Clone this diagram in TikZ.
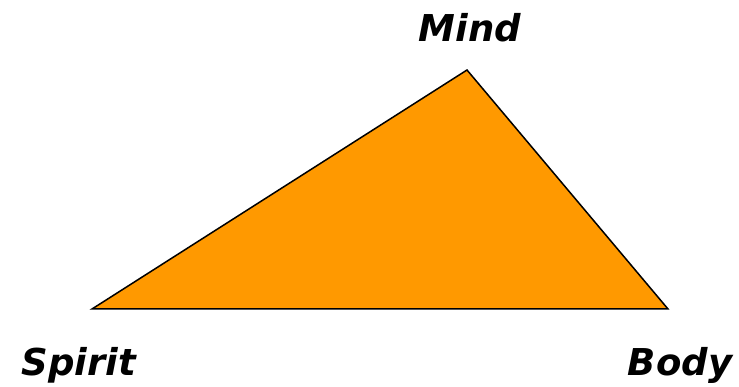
\documentclass[tikz,border=0pt]{standalone}
\usepackage{fontspec}
\setmainfont{DejaVu Sans}
\definecolor{tri}{HTML}{FF9900}
\begin{document}
\begin{tikzpicture}[x=1pt,y=-1pt,
  lbl/.style={font=\fontsize{37}{40}\selectfont\bfseries\itshape, anchor=base, inner sep=0pt}]
\useasboundingbox (0,0) rectangle (739,387);
\coordinate (S) at (92,309);
\coordinate (M) at (467,70);
\coordinate (B) at (668,309);
\filldraw[fill=tri, draw=black, line width=1.5pt, line join=miter] (S) -- (M) -- (B) -- cycle;
\node[lbl] (mind) at (470,42) {Mind};
\node[lbl] (spirit) at (79,375) {Spirit};
\node[lbl] (body) at (680,375) {Body};
\end{tikzpicture}
\end{document}
